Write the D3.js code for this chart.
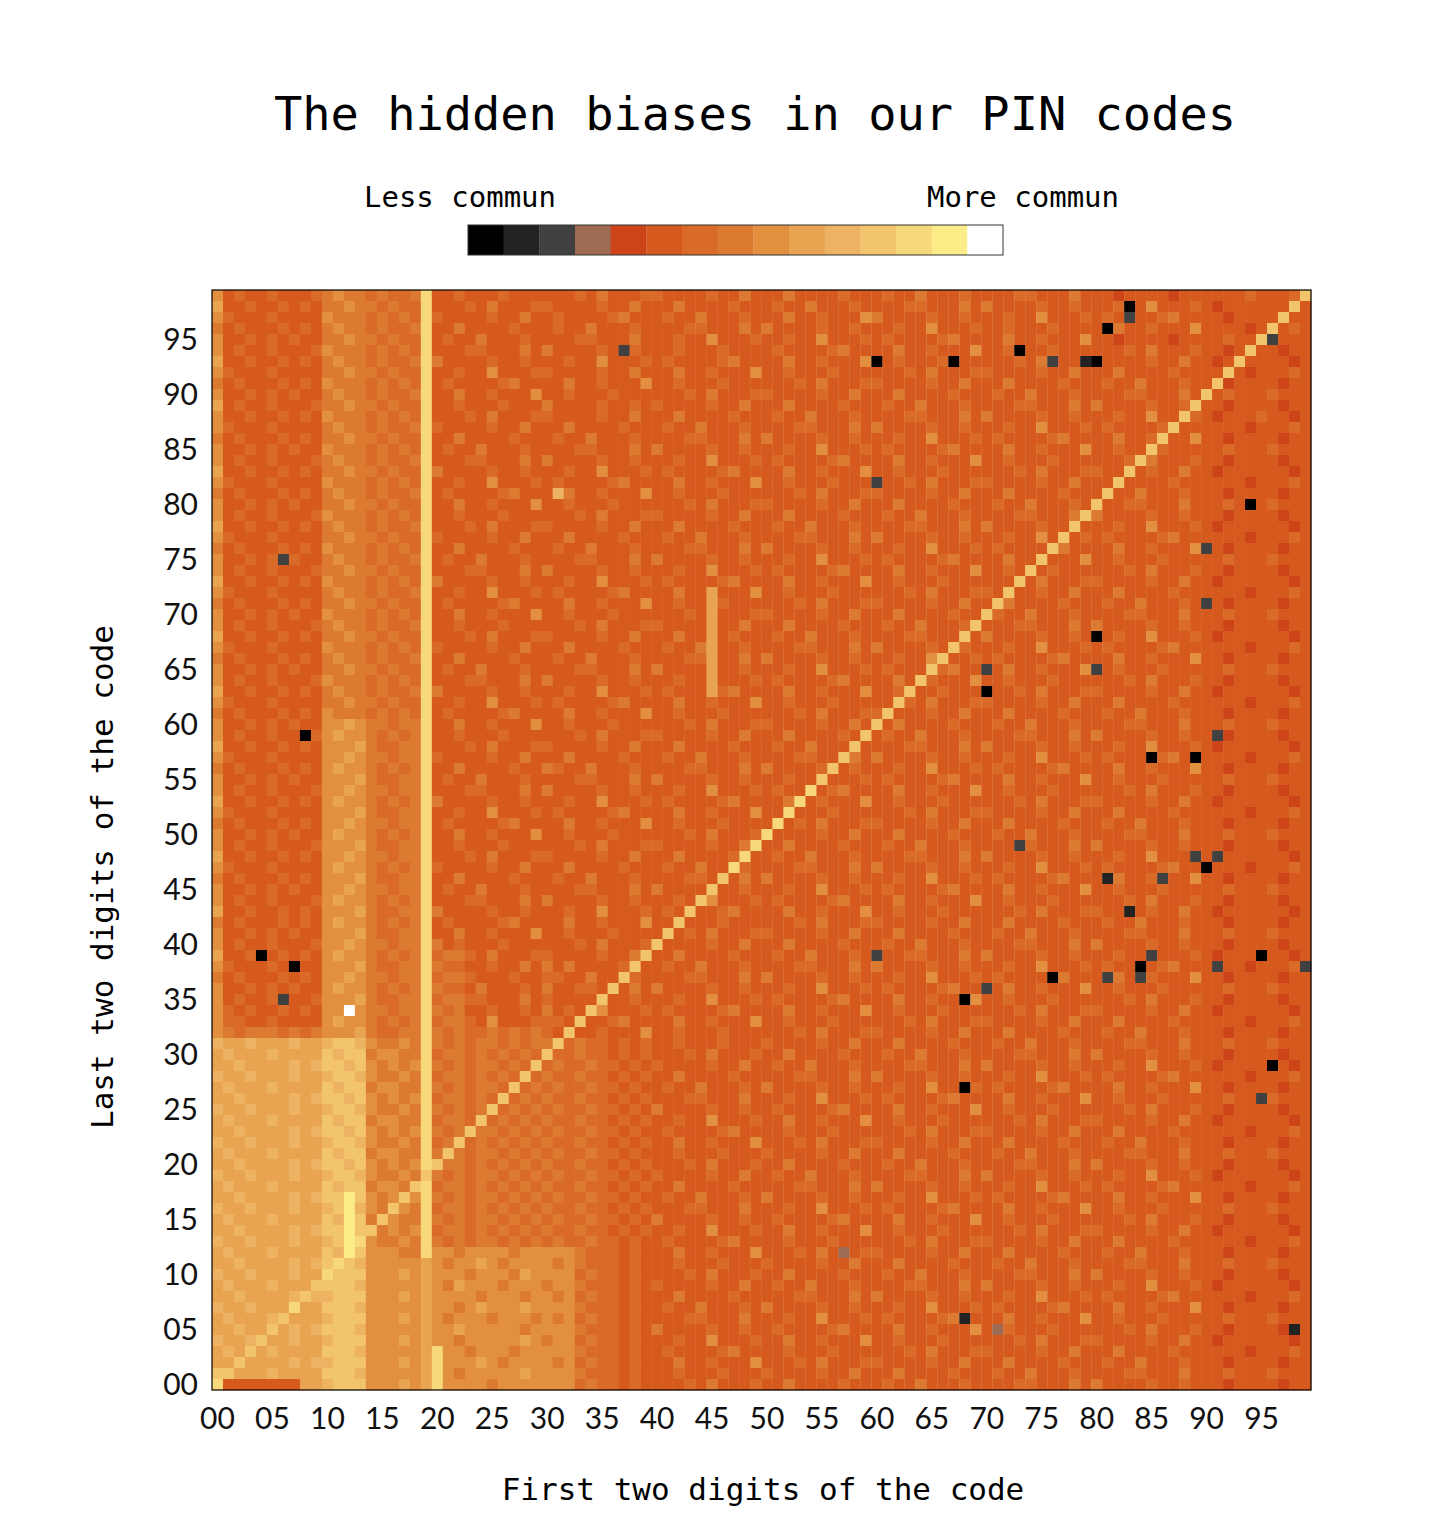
<!DOCTYPE html>
<html><head><meta charset="utf-8">
<script src="https://cdn.jsdelivr.net/npm/d3@7/dist/d3.min.js"></script>
<style>body{margin:0;background:#fff}</style></head>
<body><div id="chart"></div>
<script>
// colour classes, from "less commun" to "more commun"
const levelColors = ["#000000","#222222","#404040","#9c6b52","#cc4418","#d65a1e","#d96a28","#dc7a32","#e2903f","#e8a450","#edb262","#f2c46c","#f7d87a","#fbec88","#ffffff"];
const tickLabels = ["00","05","10","15","20","25","30","35","40","45","50","55","60","65","70","75","80","85","90","95"];
// background levels per row, first row = last digits 99, last row = 00 (hex level, columns 00..99)
const gridRows = [
"8565565556 787767667c 5565556555 5556575556 6555565575 5575555655 5655755565 5556655575 5545555455 5555655565",
"9556556565 778776766c 5556575556 6555565575 5575555655 5655755565 5556655575 7555565565 5565585556 5455555545",
"8655565555 877767676c 6555565575 5655556755 5655755565 5575565558 7555565565 5565585556 5655556755 5545555455",
"7565556565 787767667c 5575555655 5655755565 5556655575 7555565565 5565585556 5565556555 5575565558 5555455565",
"8556565655 778776766c 5655755565 5556655575 5565585556 5565585556 5655556755 5575565558 5545555455 5565556555",
"8565565556 877767676c 5556655575 7555565565 5565556555 5655556755 5575565558 5565556555 5556575556 5545555455",
"9556556565 787767667c 7555565565 5565585556 5655556755 5575565558 4565556555 5556575556 6555565575 5455555545",
"8655565555 778776766c 5565585556 6555565575 5575565558 5565556555 5556575556 6555565575 5575555655 5555455565",
"7565556565 877767676c 5655556755 5575565558 5565556555 5556575556 6555565575 5575555655 5655755565 5545555455",
"8556565655 787767667c 5575565558 5565556555 5556575556 6555565575 5575555655 5655755565 5556655575 5565556555",
"9565565556 778776766c 5565556555 7555565565 6555565575 5575555655 5655755565 5556655575 7555565565 5545555455",
"8556556565 877767676c 5556575556 6555565575 5575555655 5655755565 5556655575 7555565565 5565585556 5455565545",
"8655565555 787767667c 6555565575 5575555655 5655755565 5556655575 7555565565 5565585556 5655556755 5555455565",
"7565556565 778776766c 5575555655 5655755565 5556655575 7555565565 5565585556 5655556755 5575565558 5545555455",
"8556565655 877767676c 5655755565 5556655575 7555565565 5565585556 5655556755 5575565558 5565556555 5565556555",
"8565565556 787767667c 5556655575 7555565565 5565585556 5655556755 5575565558 5565556555 5556575556 5545555455",
"9556556565 778776766c 7555565565 5565585556 5655556755 5575565558 5565556555 5556575556 6555565575 5455555545",
"8655565555 877767676c 5565585556 5655556755 5575565558 5565556555 5556575556 6555565575 5575555655 5555455565",
"7565556565 787767667c 5655556755 5a75565558 5565556555 5556575556 6555565575 5575555655 5655755565 5545555455",
"8556565655 778776766c 5575565558 5565556555 5556575556 6555565575 5575555655 5655755565 5556655575 5565556555",
"8565565556 877767676c 5565556555 5556575556 6555565575 5575555655 5655755565 5556655575 7555565565 5545555455",
"9556556565 787767667c 5556575556 6555565575 5575555655 5655755565 5556655575 7555565565 5565585556 5455555545",
"8655565555 778776766c 6555565575 5575555655 5655755565 5556655575 7555565565 5565585556 5655556755 5555455565",
"7565556565 877767676c 5575555655 5655755565 5556655575 7555565565 5565585556 5655556755 5575565558 5545555455",
"8556565655 787767667c 5655755565 5556655575 7555565565 5565585556 5655556755 5575565558 5565556555 5565556555",
"8565565556 778776766c 5556655575 7555565565 5565585556 5655556755 5575565558 5565556555 5556575556 5545555455",
"9556556565 877767676c 7555565565 5565585556 5655556755 5575565558 5565556555 5556575556 6555565575 5455555545",
"8655565555 787767667c 5565585556 5655556755 5575595558 5565556555 5556575556 6555565575 5575555655 5555455565",
"7565556565 778776766c 5655556755 5575565558 5565596555 5556575556 6555565575 5575555655 5655755565 5545555455",
"8556565655 877767676c 5575565558 5565556555 5556595556 6555565575 5575555655 5655755565 5556655575 5565556555",
"8565565556 787767667c 5565556555 5556575556 6555595575 5575555655 5655755565 5556655575 7555565565 5545555455",
"9556556565 778776766c 5556575556 6555565575 5575595655 5655755565 5556655575 7555565565 5565585556 5455555545",
"8655565555 877767676c 6555565575 5575555655 5655795565 5556655575 7555565565 5565585556 5655556755 5555455565",
"7565556565 787767667c 5575555655 5655755565 5556695575 7555565565 5565585556 5655556755 5575565558 5545555455",
"8556565655 778776766c 5655755565 5556655575 7555595565 5565585556 5655556755 5575565558 5565556555 5565556555",
"8565565556 877767676c 5556655575 7555565565 5565595556 5655556755 5575565558 5565556555 5556575556 5545555455",
"9556556565 787767667c 7555565565 5565585556 5655596755 5575565558 5565556555 5556575556 6555565575 5455555545",
"8655565555 778776766c 5565585556 5655556755 5575565558 5565556555 5556575556 6555565575 5575555655 5555455565",
"7565556565 877767676c 5655556755 5575565558 5565556555 5556575556 6555565575 5575555655 5655755565 5545555455",
"8556565655 889877677c 5575565558 5565556555 5556575556 6555565575 5575555655 5655755565 5556655575 5565556555",
"8565565556 898876767c 5565556555 5556575556 6555565575 5575555655 5655755565 5556655575 7555565565 5545555455",
"9556556565 888976677c 5556575556 6555565575 5575555655 5655755565 5556655575 7555565565 5565585556 5455555545",
"8655565555 889877677c 6555565575 5575555655 5655755565 5556655575 7555565565 5565585556 5655556755 5555455565",
"7565556565 898876767c 5575555655 7655755565 5556655575 7555565565 5565585556 5655556755 5575565558 5545555455",
"8556565655 888976677c 5655755565 5556655575 7555565565 5565585556 5655556755 5575565558 5565556555 5565556555",
"8565565556 889877677c 5556655575 7555565565 5565585556 5655556755 5575565558 5565556555 5556575556 5545555455",
"9556556565 898876767c 7555565565 5565585556 5655556755 5575565558 5565556555 5556575556 6555565575 5455555545",
"8655565555 888976677c 5565585556 5655556755 5575565558 5565556555 5556575556 6555565575 5575555655 5555455565",
"7565556565 889877677c 5655556755 5575565558 5565556555 5556575556 6555565575 5575555655 5655755565 5545555455",
"8556565655 898876767c 5575565558 5565556555 5556575556 6555565575 5575555655 5655755565 5556655575 5565556555",
"8565565556 888976677c 5565556555 5556575556 6555565575 5575555655 5655755565 5556655575 7555565565 5545555455",
"9556556565 889877677c 5556575556 6555565575 5575555655 5655755565 5556655575 7555565565 5565585556 5455555545",
"8655565555 898876767c 6555565575 5575555655 5655755565 5556655575 7555565565 5565585556 5655556755 5555455565",
"7565556565 888976677c 5575555655 5655755565 5556655575 7555565565 5565585556 5655556755 5575565558 5545555455",
"8556565655 889877677c 5655755565 5556655575 7555565565 5565585556 5655556755 5575565558 5565556555 5565556555",
"8565565556 898876767c 5556655575 7555565565 5565585556 5655556755 5575565558 5565556555 5556575556 5545555455",
"9556556565 888976677c 7555565565 5565585556 5655556755 5575565558 5565556555 5556575556 6555565575 5455555545",
"7565556565 898876767c 5655556755 5575565558 5565556555 5556575556 6555565575 5575555655 5655755565 5545555455",
"8556565655 888976677c 5575565558 5565556555 5556575556 6555565575 5575555655 5655755565 5556655575 5565556555",
"8565565556 889877677c 7565556555 5556575556 6555565575 5575555655 5655755565 5556655575 7555565565 5545555455",
"9556556565 898876767c 6776575556 6555565575 5575555655 5655755565 5556655575 7555565565 5565585556 5455555545",
"8655565555 888976677c 7665565575 7575555655 5655755565 5556655575 7555565565 5565585556 5655556755 5555455565",
"7565556565 889877677c 6776555655 6655755565 5556655575 7555565565 5565585556 5655556755 5575565558 5545555455",
"8556565655 898876767c 7665755565 7556655575 7555565565 5565585556 5655556755 5575565558 5565556555 5565556555",
"8565565556 888976677c 6776655575 6555565565 5565585556 5655556755 5575565558 5565556555 5556575556 5545555455",
"8656556565 889877677c 7675565565 7565585556 5655556755 5575565558 5565556555 5556575556 6555565575 5455555545",
"8665565555 898876767c 6776585556 6655556755 5575565558 5565556555 5556575556 6555565575 5575555655 5555455565",
"8767776767 888976677c 7676676767 6575565558 5565556555 5556575556 6555565575 5575555655 5655755565 5545555455",
"a99a999a99 abba87787c 7676776767 7667665656 5565556555 6555565575 5575555655 5655755565 5556655575 5565556555",
"9a999a9999 babb78877c 6776767676 7667665656 5556575556 5575555655 5655755565 5556655575 7555565565 5545555455",
"99a9999a9a bbab87878c 7676776767 6766766565 6555565575 5655755565 5556655575 7555565565 5565585556 5455555545",
"a99a999a99 abba87787c 6776767676 7667665656 5575555655 5556655575 7555565565 5565585556 5655556755 5555455565",
"9a999a9999 babb78877c 7676776767 6766766565 5655755565 7555565565 5565585556 5655556755 5575565558 5545555455",
"99a9999a9a bbab87878c 6776767676 7667665656 5556655575 5565585556 5655556755 5575565558 5565556555 5565556555",
"a99a999a99 abba87787c 7676776767 6766766565 7555565565 5655556755 5575565558 5565556555 5556575556 5545555455",
"9a999a9999 babb78877c 6776767676 7667665656 5565585556 5575565558 5565556555 5556575556 6555565575 5455555545",
"99a9999a9a bbab87878c 7676776767 6766766565 5655556755 5565556555 5556575556 6555565575 5575555655 5555455565",
"a99a999a99 abba87787c 6776767676 7667665656 5575565558 5556575556 6555565575 5575555655 5655755565 5545555455",
"9a999a9999 babb78877c 7676776767 6766766565 5565556555 6555565575 5575555655 5655755565 5556655575 5565556555",
"99a9999a9a bbab87878c 6776767676 7667665656 5556575556 5575555655 5655755565 5556655575 7555565565 5545555455",
"a99a999a99 abba87787c 7676776767 6766766565 6555565575 5655755565 5556655575 7555565565 5565585556 5455555545",
"9a999a9999 babb78877c 6776767676 7667665656 5575555655 5556655575 7555565565 5565585556 5655556755 5555455565",
"99a9999a9a bbdb87878c 7676776767 6766766565 5655755565 7555565565 5565585556 5655556755 5575565558 5545555455",
"a99a999a99 abda87787c 6776767676 7667665656 5556655575 5565585556 5655556755 5575565558 5565556555 5565556555",
"9a999a9999 badb78877c 7676776767 6766766565 7555565565 5655556755 5575565558 5565556555 5556575556 5545555455",
"99a9999a9a bbdb87878c 6776767676 7667665656 5565585556 5575565558 5565556555 5556575556 6555565575 5455555545",
"a99a999a99 abda87787c 7676776767 6766766565 5655556755 5565556555 5556575556 6555565575 5575555655 5555455565",
"9a999a9999 babb88877c 8878888788 8887666565 5575565558 5556575556 6555565575 5575555655 5655755565 5545555455",
"99a9999a9a bbba888889 8788987888 8787666565 5565556555 6555565575 5575555655 5655755565 5556655575 5565556555",
"a99a999a99 abbb888989 8887888798 8886766565 5556575556 5575555655 5655755565 5556655575 7555565565 5545555455",
"9a999a9999 bbba888889 8798887888 7887666565 6555565575 5655755565 5556655575 7555565565 5565585556 5455555545",
"99a9999a9a abbb888989 8888788878 8786766565 5575555655 5556655575 7555565565 5565585556 5655556755 5555455565",
"a99a999a99 bbba888889 8878988898 8887666565 5655755565 7555565565 5565585556 5655556755 5575565558 5545555455",
"9a999a9999 abbb888989 8788878887 8786766565 5556655575 5565585556 5655556755 5575565558 5565556555 5565556555",
"99a9999a9a bbba888889 8898888878 8887666565 7555565565 5655556755 5575565558 5565556555 5556575556 5545555455",
"a99a999a99 abbb888989 8878888898 7886766565 5565585556 5575565558 5565556555 5556575556 6555565575 5455555545",
"9a999a9999 bbba888889 c887888788 8887666565 5655556755 5565556555 5556575556 6555565575 5575555655 5555455565",
"99a9999a9a abbb888989 c888987888 8786766565 5575565558 5556575556 6555565575 5575555655 5655755565 5545555455",
"ba999a9999 bbba888889 c878888898 8887666565 5565556555 6555565575 5575555655 5655755565 5556655575 5565556555",
"c555555599 abbb888989 c888878888 8886766565 5556575556 5575555655 5655755565 5556655575 7555565565 5545555455"
];
// level of the diagonal cells (first == last two digits), 00..99
const diagonalLevels = [12,11,11,11,11,11,11,12,11,11, 12,12,13,12,11,11,11,11,11,11, 11,11,11,11,11,11,11,11,11,11, 11,11,11,11,11,11,11,11,11,11, 11,11,11,11,11,11,11,12,12,12, 12,12,12,12,12,11,11,11,11,11, 11,11,11,11,11,11,11,11,11,11, 11,11,11,11,11,11,11,11,11,11, 11,11,11,11,11,11,11,11,11,11, 11,11,11,11,11,11,11,11,11,11];
// rare codes: [first two digits, last two digits, level]
const rareCodes = [[37,94,2],[60,93,0],[67,93,0],[73,94,0],[76,93,2],[79,93,1],[80,93,0],[81,96,0],[83,98,0],[83,97,2],[96,95,2],[60,82,2],[94,80,0],[6,75,2],[90,76,2],[90,71,2],[80,68,0],[80,65,2],[70,65,2],[70,63,0],[8,59,0],[91,59,2],[85,57,0],[89,57,0],[73,49,2],[89,48,2],[91,48,2],[90,47,0],[81,46,1],[86,46,2],[83,43,1],[60,39,2],[4,39,0],[85,39,2],[84,38,0],[84,37,2],[95,39,0],[7,38,0],[91,38,2],[99,38,2],[76,37,0],[81,37,2],[6,35,2],[68,35,0],[70,36,2],[96,29,0],[68,27,0],[95,26,2],[57,12,3],[68,6,1],[71,5,3],[98,5,1],[12,34,14]];

const W=1452,H=1536;
const svg=d3.select("#chart").append("svg").attr("width",W).attr("height",H);
const digits=d3.range(100);
const x=d3.scaleBand().domain(digits).range([212,1311]);
const y=d3.scaleBand().domain(digits).range([1390,290]);
const color=d3.scaleOrdinal().domain(d3.range(15)).range(levelColors);

const cells=[];
gridRows.slice(0,100).forEach((row,ri)=>{
  const s=row.replace(/ /g,"").padEnd(100,"5");
  const yy=99-ri;
  for(let xx=0;xx<100;xx++){
    let lv=parseInt(s[xx],16);
    if(xx===yy) lv=diagonalLevels[xx];
    cells.push({x:xx,y:yy,v:lv});
  }
});
const idx=new Map(cells.map(c=>[c.x+","+c.y,c]));
rareCodes.forEach(([a,b,v])=>{const c=idx.get(a+","+b); if(c) c.v=v;});

svg.append("g").selectAll("rect").data(cells).join("rect")
  .attr("x",d=>x(d.x)).attr("y",d=>y(d.y))
  .attr("width",x.bandwidth()+0.3).attr("height",y.bandwidth()+0.3)
  .attr("fill",d=>color(d.v));
svg.append("rect").attr("x",212).attr("y",290).attr("width",1099).attr("height",1100)
  .attr("fill","none").attr("stroke","#000").attr("stroke-width",1.2);

const tickFont="Lato";
const xAxis=d3.axisBottom(x).tickValues(d3.range(0,100,5)).tickFormat(d=>tickLabels[d/5]).tickSize(0).tickPadding(18);
const gx=svg.append("g").attr("transform","translate(0,1390)").call(xAxis);
const yAxis=d3.axisLeft(y).tickValues(d3.range(0,100,5)).tickFormat(d=>tickLabels[d/5]).tickSize(0).tickPadding(14);
const gy=svg.append("g").attr("transform","translate(212,0)").call(yAxis);
[gx,gy].forEach(g=>{g.select(".domain").remove();g.selectAll("text").attr("font-family",tickFont).attr("font-size",30).attr("fill","#111");});
gy.selectAll("text").attr("dy","0.35em");

const mono="DejaVu Sans Mono";
svg.append("text").attr("x",755).attr("y",130).attr("text-anchor","middle").attr("font-family",mono).attr("font-size",47).text("The hidden biases in our PIN codes");
svg.append("text").attr("x",763).attr("y",1500).attr("text-anchor","middle").attr("font-family",mono).attr("font-size",31).text("First two digits of the code");
svg.append("text").attr("transform","translate(113,877) rotate(-90)").attr("text-anchor","middle").attr("font-family",mono).attr("font-size",31).text("Last two digits of the code");

// legend
const lx=d3.scaleBand().domain(d3.range(15)).range([468,1003]);
svg.append("g").selectAll("rect").data(d3.range(15)).join("rect")
  .attr("x",d=>lx(d)).attr("y",225).attr("width",lx.bandwidth()+0.3).attr("height",30).attr("fill",d=>levelColors[d]);
svg.append("rect").attr("x",468).attr("y",225).attr("width",535).attr("height",30).attr("fill","none").attr("stroke","#333").attr("stroke-width",1);
svg.append("text").attr("x",460).attr("y",207).attr("text-anchor","middle").attr("font-family",mono).attr("font-size",29).text("Less commun");
svg.append("text").attr("x",1023).attr("y",207).attr("text-anchor","middle").attr("font-family",mono).attr("font-size",29).text("More commun");
</script></body></html>
